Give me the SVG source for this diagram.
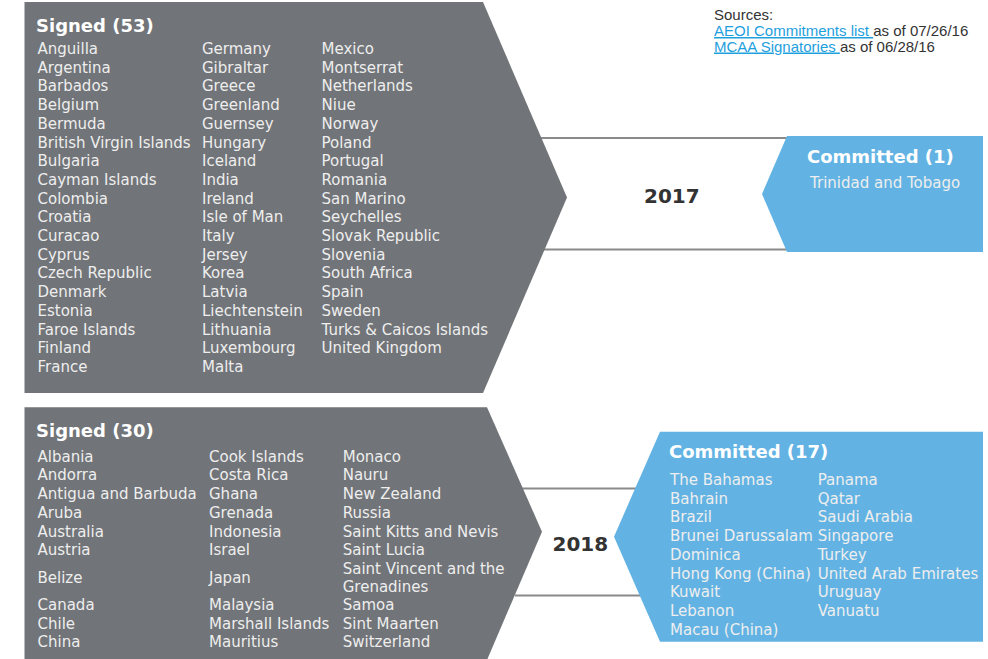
<svg xmlns="http://www.w3.org/2000/svg" width="988" height="659" viewBox="0 0 988 659">
<style>
.gray{fill:#717478}
.blue{fill:#62b3e3}
.conn{stroke:#8a8a8a;stroke-width:2;fill:none}
.title{font-family:"DejaVu Sans",Verdana,sans-serif;font-weight:bold;font-size:18px;fill:#ffffff}
.item{font-family:"DejaVu Sans",Verdana,sans-serif;font-size:15px;fill:#eeeeee}
.year{font-family:"DejaVu Sans",Verdana,sans-serif;font-weight:bold;font-size:20px;fill:#333333}
.src{font-family:"Liberation Sans",Arial,sans-serif;font-size:15px;fill:#333333}
.link{fill:#1ea0dd;text-decoration:underline}
</style>
<rect width="988" height="659" fill="#ffffff"/>
<g id="connectors">
<line class="conn" x1="530" y1="138" x2="790" y2="138"/>
<line class="conn" x1="530" y1="249.5" x2="790" y2="249.5"/>
<line class="conn" x1="515" y1="488.5" x2="665" y2="488.5"/>
<line class="conn" x1="515" y1="595.5" x2="665" y2="595.5"/>
</g>
<g id="sources">
<text class="src" x="714" y="20">Sources:</text>
<text class="src" x="714" y="36"><tspan class="link">AEOI Commitments list </tspan><tspan>as of 07/26/16</tspan></text>
<text class="src" x="714" y="51.5"><tspan class="link">MCAA Signatories </tspan><tspan>as of 06/28/16</tspan></text>
</g>
<g id="signed53">
<polygon class="gray" points="24.5,2 483,2 567,197.5 483,393 24.5,393"/>
<text class="title" x="36" y="32">Signed (53)</text>
<g class="item">
<text x="37.5" y="54">Anguilla</text>
<text x="37.5" y="72.7">Argentina</text>
<text x="37.5" y="91.4">Barbados</text>
<text x="37.5" y="110.1">Belgium</text>
<text x="37.5" y="128.8">Bermuda</text>
<text x="37.5" y="147.5">British Virgin Islands</text>
<text x="37.5" y="166.2">Bulgaria</text>
<text x="37.5" y="184.9">Cayman Islands</text>
<text x="37.5" y="203.6">Colombia</text>
<text x="37.5" y="222.3">Croatia</text>
<text x="37.5" y="241">Curacao</text>
<text x="37.5" y="259.7">Cyprus</text>
<text x="37.5" y="278.4">Czech Republic</text>
<text x="37.5" y="297.1">Denmark</text>
<text x="37.5" y="315.8">Estonia</text>
<text x="37.5" y="334.5">Faroe Islands</text>
<text x="37.5" y="353.2">Finland</text>
<text x="37.5" y="371.9">France</text>
<text x="202" y="54">Germany</text>
<text x="202" y="72.7">Gibraltar</text>
<text x="202" y="91.4">Greece</text>
<text x="202" y="110.1">Greenland</text>
<text x="202" y="128.8">Guernsey</text>
<text x="202" y="147.5">Hungary</text>
<text x="202" y="166.2">Iceland</text>
<text x="202" y="184.9">India</text>
<text x="202" y="203.6">Ireland</text>
<text x="202" y="222.3">Isle of Man</text>
<text x="202" y="241">Italy</text>
<text x="202" y="259.7">Jersey</text>
<text x="202" y="278.4">Korea</text>
<text x="202" y="297.1">Latvia</text>
<text x="202" y="315.8">Liechtenstein</text>
<text x="202" y="334.5">Lithuania</text>
<text x="202" y="353.2">Luxembourg</text>
<text x="202" y="371.9">Malta</text>
<text x="321.5" y="54">Mexico</text>
<text x="321.5" y="72.7">Montserrat</text>
<text x="321.5" y="91.4">Netherlands</text>
<text x="321.5" y="110.1">Niue</text>
<text x="321.5" y="128.8">Norway</text>
<text x="321.5" y="147.5">Poland</text>
<text x="321.5" y="166.2">Portugal</text>
<text x="321.5" y="184.9">Romania</text>
<text x="321.5" y="203.6">San Marino</text>
<text x="321.5" y="222.3">Seychelles</text>
<text x="321.5" y="241">Slovak Republic</text>
<text x="321.5" y="259.7">Slovenia</text>
<text x="321.5" y="278.4">South Africa</text>
<text x="321.5" y="297.1">Spain</text>
<text x="321.5" y="315.8">Sweden</text>
<text x="321.5" y="334.5">Turks &amp; Caicos Islands</text>
<text x="321.5" y="353.2">United Kingdom</text>
</g>
</g>
<g id="year2017">
<text class="year" x="644" y="203.3">2017</text>
</g>
<g id="committed1">
<polygon class="blue" points="787,136 983,136 983,252 787,252 762,194"/>
<text class="title" x="807" y="163">Committed (1)</text>
<text class="item" x="810" y="188.3">Trinidad and Tobago</text>
</g>
<g id="signed30">
<polygon class="gray" points="24.5,407.3 487,407.3 542,531.7 487,660 24.5,660"/>
<text class="title" x="36" y="437">Signed (30)</text>
<g class="item">
<text x="37.5" y="461.7">Albania</text>
<text x="37.5" y="480.4">Andorra</text>
<text x="37.5" y="499.1">Antigua and Barbuda</text>
<text x="37.5" y="517.8">Aruba</text>
<text x="37.5" y="536.5">Australia</text>
<text x="37.5" y="555.2">Austria</text>
<text x="37.5" y="583.3">Belize</text>
<text x="37.5" y="610">Canada</text>
<text x="37.5" y="628.7">Chile</text>
<text x="37.5" y="647.4">China</text>
<text x="209" y="461.7">Cook Islands</text>
<text x="209" y="480.4">Costa Rica</text>
<text x="209" y="499.1">Ghana</text>
<text x="209" y="517.8">Grenada</text>
<text x="209" y="536.5">Indonesia</text>
<text x="209" y="555.2">Israel</text>
<text x="209" y="583.3">Japan</text>
<text x="209" y="610">Malaysia</text>
<text x="209" y="628.7">Marshall Islands</text>
<text x="209" y="647.4">Mauritius</text>
<text x="342.7" y="461.7">Monaco</text>
<text x="342.7" y="480.4">Nauru</text>
<text x="342.7" y="499.1">New Zealand</text>
<text x="342.7" y="517.8">Russia</text>
<text x="342.7" y="536.5">Saint Kitts and Nevis</text>
<text x="342.7" y="555.2">Saint Lucia</text>
<text x="342.7" y="573.5">Saint Vincent and the</text>
<text x="342.7" y="591.5">Grenadines</text>
<text x="342.7" y="610">Samoa</text>
<text x="342.7" y="628.7">Sint Maarten</text>
<text x="342.7" y="647.4">Switzerland</text>
</g>
</g>
<g id="year2018">
<text class="year" x="552.5" y="550.7">2018</text>
</g>
<g id="committed17">
<polygon class="blue" points="660,431.7 983,431.7 983,641.7 660,641.7 614,536.7"/>
<text class="title" x="669" y="458.3">Committed (17)</text>
<g class="item">
<text x="670" y="485">The Bahamas</text>
<text x="670" y="503.7">Bahrain</text>
<text x="670" y="522.4">Brazil</text>
<text x="670" y="541.1">Brunei Darussalam</text>
<text x="670" y="559.8">Dominica</text>
<text x="670" y="578.5">Hong Kong (China)</text>
<text x="670" y="597.2">Kuwait</text>
<text x="670" y="615.9">Lebanon</text>
<text x="670" y="634.6">Macau (China)</text>
<text x="817.7" y="485">Panama</text>
<text x="817.7" y="503.7">Qatar</text>
<text x="817.7" y="522.4">Saudi Arabia</text>
<text x="817.7" y="541.1">Singapore</text>
<text x="817.7" y="559.8">Turkey</text>
<text x="817.7" y="578.5">United Arab Emirates</text>
<text x="817.7" y="597.2">Uruguay</text>
<text x="817.7" y="615.9">Vanuatu</text>
</g>
</g>
</svg>
